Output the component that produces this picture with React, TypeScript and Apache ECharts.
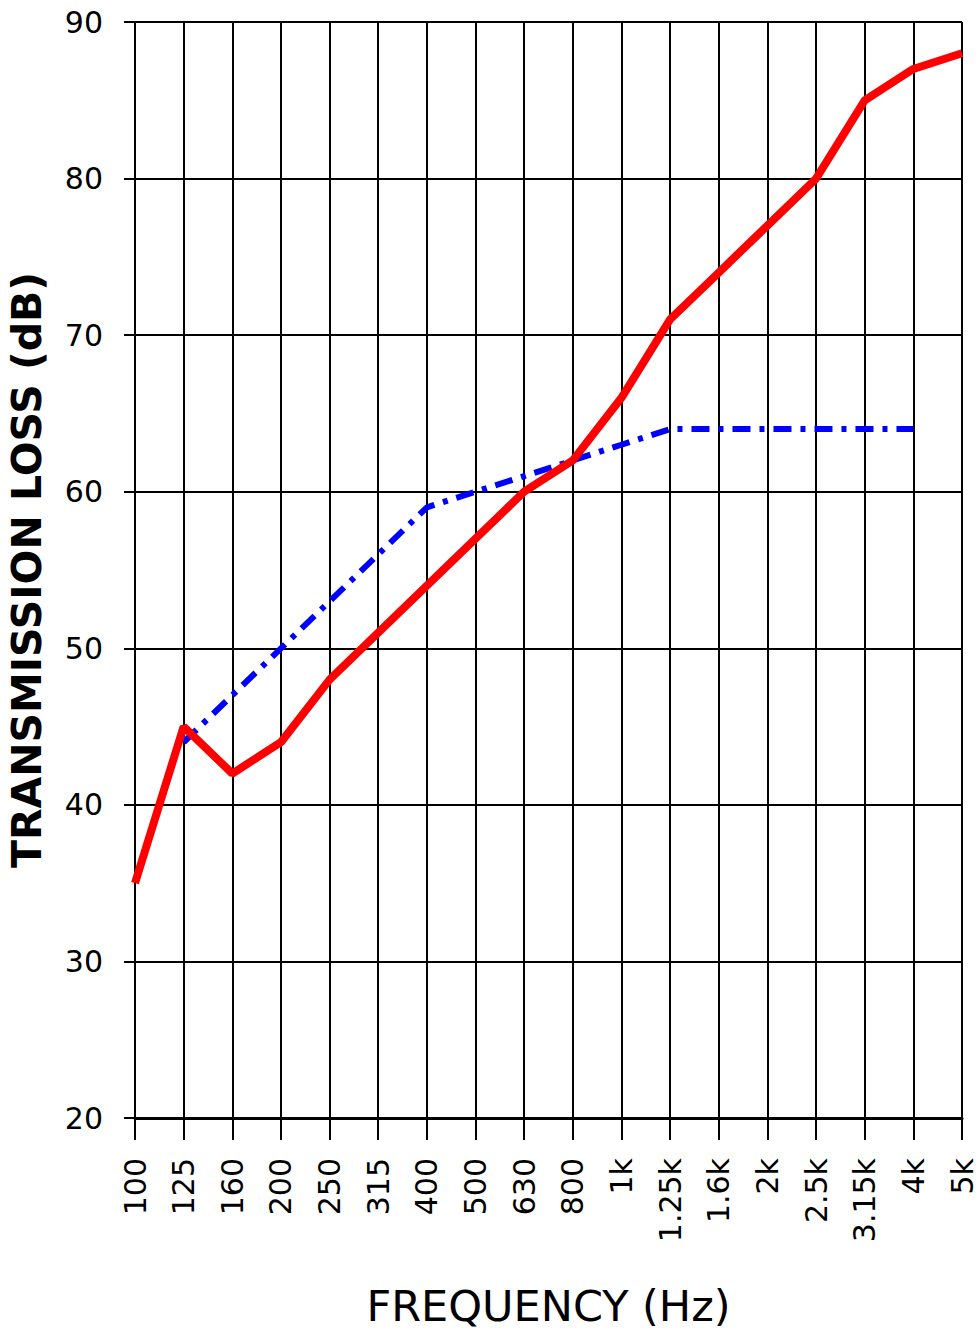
import React, { useEffect, useRef } from "react";
import * as echarts from "echarts";

const frequencies = ["100", "125", "160", "200", "250", "315", "400", "500", "630", "800", "1k", "1.25k", "1.6k", "2k", "2.5k", "3.15k", "4k", "5k"];
const measuredTL = [35, 45, 42, 44, 48, 51, 54, 57, 60, 62, 66, 71, 74, 77, 80, 85, 87, 88];
const referenceTL = [null, 44, 47, 50, 53, 56, 59, 60, 61, 62, 63, 64, 64, 64, 64, 64, 64, null];
const yTicks = { min: 20, max: 90, interval: 10 };

export default function App() {
  const ref = useRef<HTMLDivElement>(null);
  useEffect(() => {
    if (!ref.current) return;
    const chart = echarts.init(ref.current, null, { renderer: "svg" });
    const font = "DejaVu Sans";
    chart.setOption({
      animation: false,
      backgroundColor: "#ffffff",
      grid: { left: 135, right: 17, top: 22, bottom: 213, containLabel: false, outerBoundsMode: "none" },
      xAxis: {
        type: "category",
        data: frequencies,
        boundaryGap: false,
        name: "FREQUENCY (Hz)",
        nameLocation: "middle",
        nameGap: 166,
        nameTextStyle: { fontFamily: font, fontSize: 43, color: "#000" },
        axisLine: { show: true, lineStyle: { color: "#000", width: 3 } },
        axisTick: { show: true, alignWithLabel: true, length: 22, lineStyle: { color: "#000", width: 2 } },
        axisLabel: { rotate: 90, margin: 40, fontFamily: font, fontSize: 30, color: "#000", interval: 0 },
        splitLine: { show: true, lineStyle: { color: "#000", width: 2 } },
      },
      yAxis: {
        type: "value",
        min: yTicks.min,
        max: yTicks.max,
        interval: yTicks.interval,
        name: "TRANSMISSION LOSS (dB)",
        nameLocation: "middle",
        nameRotate: 90,
        nameGap: 88,
        nameTextStyle: { fontFamily: font, fontSize: 41, fontWeight: "bold", color: "#000" },
        axisLine: { show: true, lineStyle: { color: "#000", width: 2 } },
        axisTick: { show: true, length: 11, lineStyle: { color: "#000", width: 2 } },
        axisLabel: { margin: 32, fontFamily: font, fontSize: 30, color: "#000" },
        splitLine: { show: true, lineStyle: { color: "#000", width: 2 } },
      },
      series: [
        {
          type: "line",
          data: referenceTL,
          symbol: "none",
          connectNulls: false,
          lineStyle: { color: "#0000ff", width: 6, type: [18, 9, 5, 9] },
        },
        {
          type: "line",
          data: measuredTL,
          symbol: "none",
          lineStyle: { color: "#ff0000", width: 8 },
        },
      ],
    });
    return () => chart.dispose();
  }, []);
  return <div ref={ref} style={{ position: "absolute", left: 0, top: 0, width: 979, height: 1331 }} />;
}
